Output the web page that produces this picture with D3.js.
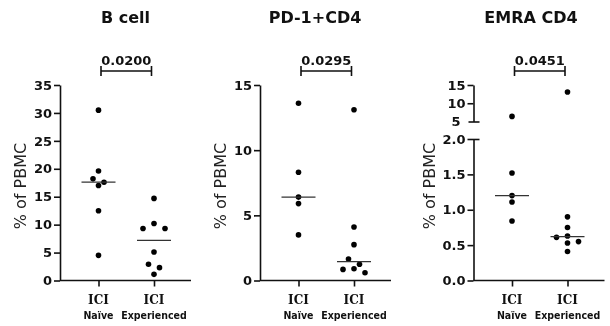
<!DOCTYPE html>
<html>
<head>
<meta charset="utf-8">
<script src="https://cdn.jsdelivr.net/npm/d3@7"></script>
<style>
  body { margin: 0; background: #fff; }
  svg { will-change: transform; opacity: 0.999; }
  text { font-family: "DejaVu Sans", Verdana, sans-serif; }
</style>
</head>
<body>
<div id="chart"></div>
<script>
// data (% of PBMC)
const groups = ["Naïve", "Experienced"];
const titles = ["B cell", "PD-1+CD4", "EMRA CD4"];
const pValues = ["0.0200", "0.0295", "0.0451"];

const bCellNaive = [30.5, 19.6, 18.2, 17.6, 17.0, 12.5, 4.5];
const bCellExp = [14.7, 10.2, 9.3, 9.3, 5.1, 2.9, 2.3, 1.1];
const pd1Naive = [13.6, 8.3, 6.4, 5.9, 3.5];
const pd1Exp = [13.1, 4.1, 2.75, 1.65, 1.25, 0.9, 0.85, 0.6];
const emraNaive = [6.4, 1.52, 1.2, 1.11, 0.84];
const emraExp = [13.1, 0.90, 0.75, 0.63, 0.61, 0.55, 0.53, 0.41];

const bCellTicks = [0, 5, 10, 15, 20, 25, 30, 35];
const pd1Ticks = [0, 5, 10, 15];
const emraLowTicks = [0, 0.5, 1.0, 1.5, 2.0];
const emraHighTicks = [5, 10, 15];

const width = 610, height = 326;
const yTop = 85, yBottom = 280.5, xLen = 131;

const svg = d3.select("#chart").append("svg")
    .attr("width", width)
    .attr("height", height);

// panel placement
const panels = [
  { axisX: 60, titleX: 125.5, labelX: 20, series: [bCellNaive, bCellExp] },
  { axisX: 260, titleX: 315, labelX: 220, series: [pd1Naive, pd1Exp] },
  { axisX: 473.5, titleX: 531, labelX: 429, series: [emraNaive, emraExp] }
];

// y scales
const yB = d3.scaleLinear().domain([0, 35]).range([yBottom, yTop]);
const yP = d3.scaleLinear().domain([0, 15]).range([yBottom, yTop]);
const yLow = d3.scaleLinear().domain([0, 2]).range([yBottom, 139]);
const yHigh = d3.scaleLinear().domain([5, 15]).range([121.5, yTop]);
const yE = v => v <= 2 ? yLow(v) : yHigh(v);
const yFns = [yB, yP, yE];

const x = d3.scalePoint().domain(groups).range([38.5, 94]);

function styleAxis(g) {
  g.select(".domain").attr("stroke", "#111").attr("stroke-width", 1.6);
  g.selectAll(".tick line").attr("stroke", "#111").attr("stroke-width", 1.6);
  g.selectAll(".tick text")
    .attr("fill", "#111")
    .style("font-size", "13px")
    .style("font-weight", "bold")
    .style("font-family", "'DejaVu Sans', Verdana, sans-serif");
}

// simple swarm: points closer than ~6px vertically share a row and get spread out
function swarm(vals, y) {
  const pts = vals.map(v => ({ v: v, py: y(v) })).sort((a, b) => a.py - b.py);
  const rows = [];
  pts.forEach(p => {
    const r = rows[rows.length - 1];
    if (r && p.py - r[0].py < 6) r.push(p); else rows.push([p]);
  });
  const s = 11;
  rows.forEach(r => {
    const n = r.length;
    const slots = n % 2 ? [0, -1, 1, -2, 2] : [-0.5, 0.5, -1.5, 1.5];
    r.forEach((p, i) => { p.dx = slots[i] * s; });
  });
  return pts;
}

panels.forEach((p, i) => {
  const y = yFns[i];
  const g = svg.append("g").attr("transform", "translate(" + p.axisX + ",0)");

  // title
  svg.append("text")
    .attr("x", p.titleX).attr("y", 23)
    .attr("text-anchor", "middle")
    .style("font-size", "16px").style("font-weight", "bold")
    .attr("fill", "#111")
    .text(titles[i]);

  // y axis
  if (i < 2) {
    g.append("g")
      .call(d3.axisLeft(y).tickValues(i === 0 ? bCellTicks : pd1Ticks)
        .tickSize(6).tickPadding(2).tickSizeOuter(0).tickFormat(d3.format("d")))
      .call(styleAxis);
  } else {
    const low = g.append("g")
      .call(d3.axisLeft(yLow).tickValues(emraLowTicks)
        .tickSize(6).tickPadding(2).tickSizeOuter(0).tickFormat(d3.format(".1f")))
      .call(styleAxis);
    const high = g.append("g")
      .call(d3.axisLeft(yHigh).tickValues(emraHighTicks)
        .tickSize(6).tickPadding(2).tickSizeOuter(0).tickFormat(d3.format("d")))
      .call(styleAxis);
    // caps at the axis break
    low.selectAll(".tick").filter(d => d === 2).select("line").attr("x1", 6);
    high.selectAll(".tick").filter(d => d === 5).select("line").attr("x2", -5).attr("x1", 6);
    high.selectAll(".tick").filter(d => d === 5).select("text").attr("x", -13);
  }

  // y label
  svg.append("text")
    .attr("transform", "translate(" + p.labelX + ",186) rotate(-90)")
    .attr("text-anchor", "middle")
    .attr("dominant-baseline", "central")
    .style("font-size", "16px")
    .attr("fill", "#222")
    .text("% of PBMC");

  // x axis
  g.append("line")
    .attr("x1", 0).attr("x2", xLen)
    .attr("y1", yBottom).attr("y2", yBottom)
    .attr("stroke", "#111").attr("stroke-width", 1.6);
  const xa = g.append("g")
    .attr("transform", "translate(0," + yBottom + ")")
    .call(d3.axisBottom(x).tickSize(6).tickFormat(""));
  xa.select(".domain").remove();
  xa.selectAll(".tick line").attr("stroke", "#111").attr("stroke-width", 1.6);

  groups.forEach(gr => {
    g.append("text")
      .attr("x", x(gr)).attr("y", 304)
      .attr("text-anchor", "middle")
      .style("font-family", "'DejaVu Serif', serif")
      .style("font-size", "12px").style("font-weight", "bold")
      .attr("fill", "#111")
      .text("ICI");
    g.append("text")
      .attr("x", x(gr)).attr("y", 319)
      .attr("text-anchor", "middle")
      .style("font-family", "'DejaVu Sans Condensed', 'DejaVu Sans', sans-serif")
      .style("font-size", "10.5px").style("font-weight", "bold")
      .attr("fill", "#111")
      .text(gr);
  });

  // points and medians
  p.series.forEach((vals, j) => {
    const cx = x(groups[j]);
    const pts = swarm(vals, y);
    g.selectAll(null).data(pts).enter().append("circle")
      .attr("cx", d => cx + d.dx)
      .attr("cy", d => d.py)
      .attr("r", 2.8)
      .attr("fill", "#000");
    const med = d3.median(vals);
    g.append("line")
      .attr("x1", cx - 17).attr("x2", cx + 17)
      .attr("y1", y(med)).attr("y2", y(med))
      .attr("stroke", "#333").attr("stroke-width", 1.2);
  });

  // significance bracket
  const x1 = x(groups[0]) + 2.5, x2 = x(groups[1]) - 2.5;
  g.append("path")
    .attr("d", "M" + x1 + ",66V76M" + x1 + ",71H" + x2 + "M" + x2 + ",66V76")
    .attr("fill", "none").attr("stroke", "#111").attr("stroke-width", 1.6);
  g.append("text")
    .attr("x", (x1 + x2) / 2).attr("y", 65)
    .attr("text-anchor", "middle")
    .style("font-size", "13px").style("font-weight", "bold")
    .attr("fill", "#111")
    .text(pValues[i]);
});
</script>
</body>
</html>
